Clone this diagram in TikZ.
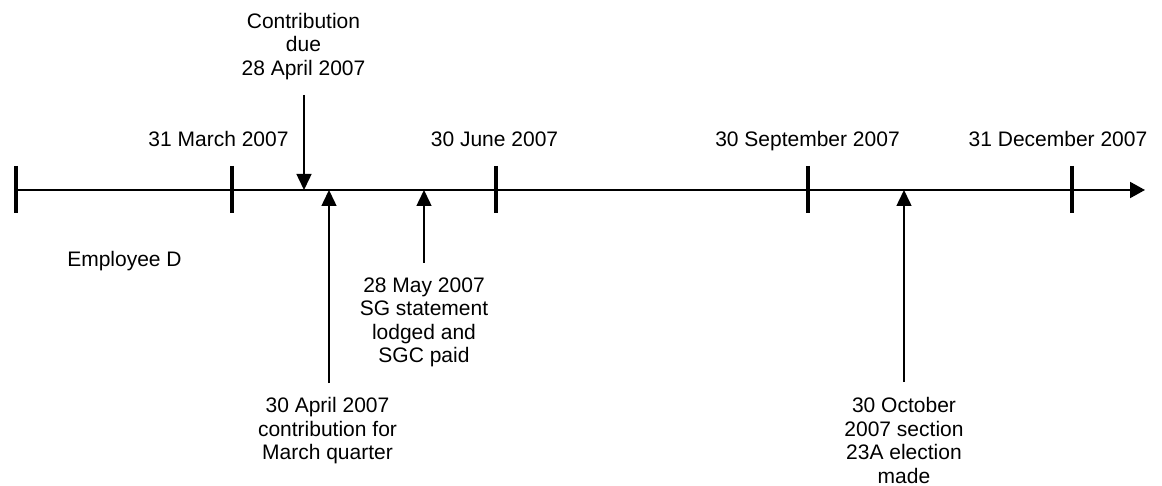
\documentclass[tikz,border=0pt]{standalone}
\usepackage{fontspec}
\setmainfont{Liberation Sans}
\usetikzlibrary{arrows.meta}
\begin{document}
\begin{tikzpicture}[x=0.5pt,y=-0.5pt,
  lbl/.style={font=\fontsize{10.5pt}{11.75pt}\selectfont, inner sep=0pt, align=center, text=black},
  axisline/.style={line width=1pt, -{Triangle[length=7.5pt,width=8pt]}},
  tickmark/.style={line width=2.4pt},
  pointer/.style={line width=0.75pt, -{Triangle[length=8pt,width=7.5pt]}}]
\useasboundingbox (0,0) rectangle (1162,486);
% axis
\coordinate (a0) at (16,190);
\coordinate (aend) at (1145,190);
\draw[axisline] (a0) -- (aend);
% ticks
\foreach \n/\x in {t1/16,t2/232,t3/496,t4/808,t5/1072}{
  \coordinate (\n top) at (\x,166);
  \coordinate (\n bot) at (\x,213);
  \draw[tickmark] (\n top) -- (\n bot);
}
% top labels
\node[lbl, anchor=base] (march) at (218.5,147) {31 March 2007};
\node[lbl, anchor=base] (june) at (494.5,147) {30 June 2007};
\node[lbl, anchor=base] (sept) at (807.5,147) {30 September 2007};
\node[lbl, anchor=base] (dec) at (1058,147) {31 December 2007};
\node[lbl, anchor=north] (contrib) at (303.5,12.7) {Contribution\\due\\28 April 2007};
\node[lbl, anchor=base] (empd) at (124.5,267) {Employee D};
\node[lbl, anchor=north] (may) at (424,277) {28 May 2007\\SG statement\\lodged and\\SGC paid};
\node[lbl, anchor=north] (april) at (327.5,397) {30 April 2007\\contribution for\\March quarter};
\node[lbl, anchor=north] (oct) at (904,397) {30 October\\2007 section\\23A election\\made};
% pointers
\coordinate (pc) at (304,95);
\coordinate (pcend) at (304,190);
\draw[pointer] (pc) -- (pcend);
\coordinate (pa) at (329,383);
\coordinate (paend) at (329,190);
\draw[pointer] (pa) -- (paend);
\coordinate (pm) at (424,263);
\coordinate (pmend) at (424,190);
\draw[pointer] (pm) -- (pmend);
\coordinate (po) at (904,382);
\coordinate (poend) at (904,190);
\draw[pointer] (po) -- (poend);
\end{tikzpicture}
\end{document}
